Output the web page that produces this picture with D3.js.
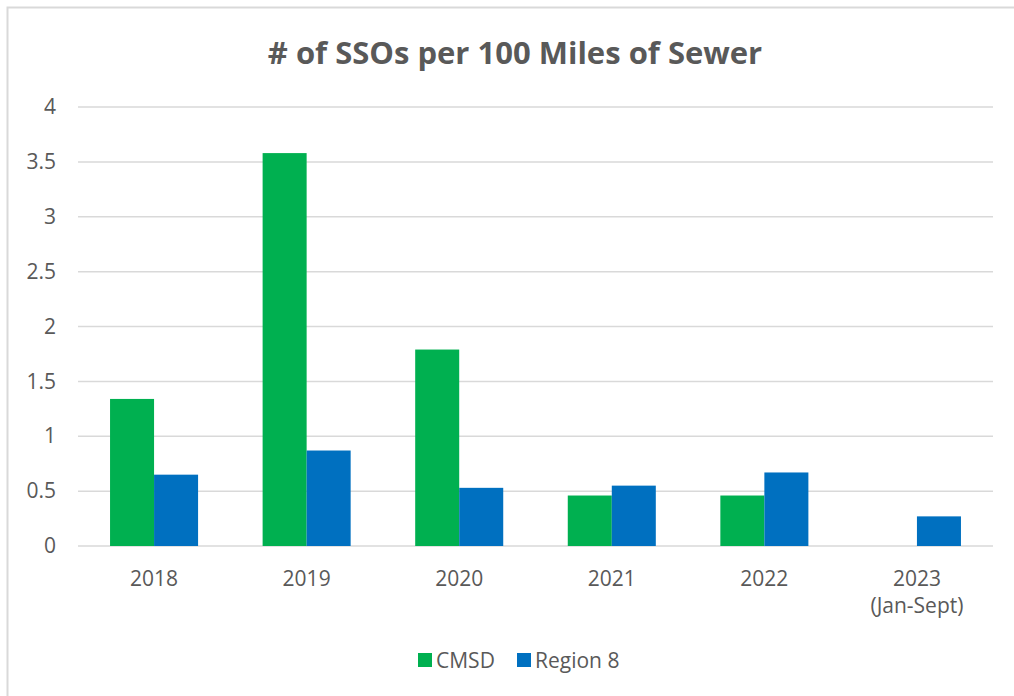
<!DOCTYPE html>
<html>
<head>
<meta charset="utf-8">
<script src="https://cdn.jsdelivr.net/npm/d3@7"></script>
<style>
  body { margin: 0; background: #fff; }
  text { font-family: "Open Sans", sans-serif; fill: #595959; }
</style>
</head>
<body>
<svg width="1014" height="696"></svg>
<script>
var years = ["2018", "2019", "2020", "2021", "2022", "2023"];
var yearNotes = ["", "", "", "", "", "(Jan-Sept)"];
var seriesNames = ["CMSD", "Region 8"];
var cmsd = [1.34, 3.58, 1.79, 0.46, 0.46, 0];
var region8 = [0.65, 0.87, 0.53, 0.55, 0.67, 0.27];
var yTicks = [0, 0.5, 1, 1.5, 2, 2.5, 3, 3.5, 4];
var colors = ["#00B050", "#0070C0"];

var svg = d3.select("svg");

// outer chart border (only top/left visible in the picture)
svg.append("rect")
  .attr("x", 7.5).attr("y", 7.5)
  .attr("width", 1020).attr("height", 700)
  .attr("fill", "none")
  .attr("stroke", "#d9d9d9")
  .attr("stroke-width", 2);

svg.append("text")
  .attr("x", 515).attr("y", 64)
  .attr("text-anchor", "middle")
  .style("font-size", "31px")
  .style("font-weight", "bold")
  .text("# of SSOs per 100 Miles of Sewer");

var margin = {top: 107, left: 78, right: 21, bottom: 150},
    width = 1014 - margin.left - margin.right,
    height = 696 - margin.top - margin.bottom;
var g = svg.append("g").attr("transform", "translate(" + margin.left + "," + margin.top + ")");

var x = d3.scaleBand().domain(years).range([0, width]).paddingInner(0.423).paddingOuter(0.21);
var xs = d3.scaleBand().domain(seriesNames).range([0, x.bandwidth()]);
var y = d3.scaleLinear().domain([0, 4]).range([height, 0]);

// gridlines
g.append("g")
  .selectAll("line")
  .data(yTicks)
  .enter().append("line")
  .attr("x1", 0).attr("x2", width)
  .attr("y1", function(d) { return y(d); })
  .attr("y2", function(d) { return y(d); })
  .attr("stroke", "#d9d9d9")
  .attr("stroke-width", 1.5);

// y axis labels
var yAxis = g.append("g")
  .call(d3.axisLeft(y).tickValues(yTicks).tickSize(0).tickPadding(22).tickFormat(d3.format("")));
yAxis.select(".domain").remove();
yAxis.selectAll("text").style("font-size", "21px").attr("fill", "#595959");

var data = years.map(function(yr, i) {
  return {year: yr, values: [cmsd[i], region8[i]]};
});

var groups = g.selectAll(".grp")
  .data(data)
  .enter().append("g")
  .attr("class", "grp")
  .attr("transform", function(d) { return "translate(" + x(d.year) + ",0)"; });

groups.selectAll("rect")
  .data(function(d) { return d.values.map(function(v, j) { return {name: seriesNames[j], value: v, c: j}; }); })
  .enter().append("rect")
  .attr("x", function(d) { return xs(d.name); })
  .attr("width", xs.bandwidth())
  .attr("y", function(d) { return y(d.value); })
  .attr("height", function(d) { return height - y(d.value); })
  .attr("fill", function(d) { return colors[d.c]; });

// x axis labels
var xl = g.append("g").attr("transform", "translate(0," + height + ")");
xl.selectAll(".yr")
  .data(years)
  .enter().append("text")
  .attr("x", function(d) { return x(d) + x.bandwidth() / 2; })
  .attr("y", 40)
  .attr("text-anchor", "middle")
  .style("font-size", "21px")
  .text(function(d) { return d; });
xl.selectAll(".note")
  .data(years)
  .enter().append("text")
  .attr("x", function(d) { return x(d) + x.bandwidth() / 2; })
  .attr("y", 67)
  .attr("text-anchor", "middle")
  .style("font-size", "21px")
  .text(function(d, i) { return yearNotes[i]; });

// legend
var legendX = [418, 517];
var lg = svg.append("g").selectAll("g")
  .data(seriesNames)
  .enter().append("g")
  .attr("transform", function(d, i) { return "translate(" + legendX[i] + ",653)"; });
lg.append("rect").attr("width", 14).attr("height", 14)
  .attr("fill", function(d, i) { return colors[i]; });
lg.append("text").attr("x", 18).attr("y", 15)
  .style("font-size", "21px")
  .text(function(d) { return d; });
</script>
</body>
</html>
